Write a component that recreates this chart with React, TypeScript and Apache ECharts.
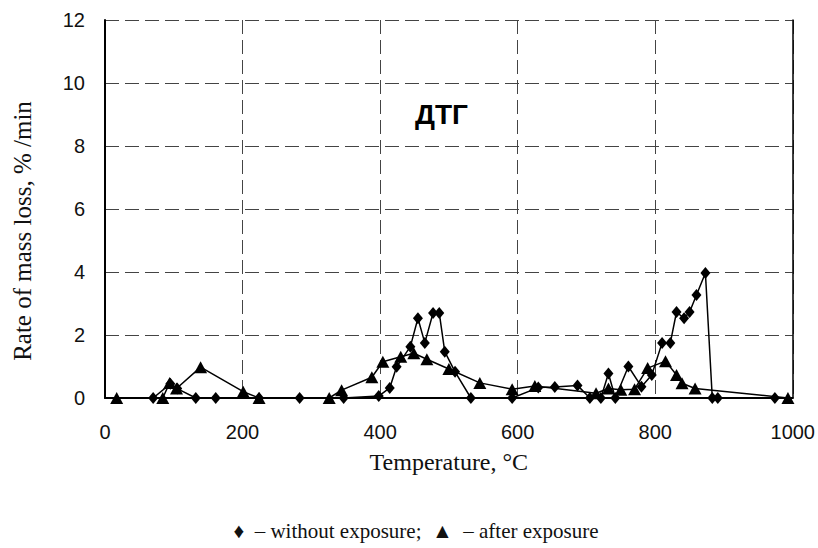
import React, { useEffect, useRef } from "react";
import * as echarts from "echarts";

// Series: without exposure (diamonds)
const withoutT = [70, 95, 105, 132, 161, 224, 283, 347, 398, 414, 424, 444, 455, 465, 477, 486, 494, 509, 532, 592, 630, 654, 687, 705, 721, 732, 742, 761, 780, 795, 810, 822, 831, 842, 850, 860, 873, 883, 891, 974];
const withoutV = [0, 0.45, 0.3, 0, 0, 0, 0, 0, 0.06, 0.32, 0.99, 1.63, 2.53, 1.75, 2.7, 2.7, 1.47, 0.83, 0, 0, 0.33, 0.35, 0.4, 0, 0, 0.78, 0, 1.0, 0.36, 0.73, 1.75, 1.75, 2.73, 2.53, 2.73, 3.27, 3.97, 0, 0, 0];

// Series: after exposure (triangles)
const afterT = [17, 84, 94, 104, 139, 201, 224, 326, 344, 388, 404, 430, 449, 468, 500, 545, 592, 625, 714, 732, 750, 770, 789, 815, 831, 839, 858, 993];
const afterV = [0, 0, 0.48, 0.3, 0.98, 0.2, 0, 0, 0.25, 0.66, 1.15, 1.31, 1.42, 1.23, 0.92, 0.48, 0.28, 0.38, 0.15, 0.3, 0.26, 0.28, 0.95, 1.17, 0.73, 0.47, 0.3, 0];

const xTicks = [0, 200, 400, 600, 800, 1000];
const yTicks = [0, 2, 4, 6, 8, 10, 12];

const xTitle = "Temperature, °C";
const yTitle = "Rate of mass loss, % /min";
const legendText = "♦  – without exposure;  ▲  – after exposure";
const label = "ДТГ";

export default function App() {
  const ref = useRef<HTMLDivElement>(null);
  useEffect(() => {
    if (!ref.current) return;
    const chart = echarts.init(ref.current, undefined, { renderer: "svg" });
    const pair = (t: number[], v: number[]) => t.map((x, i) => [x, v[i]]);
    chart.setOption({
      animation: false,
      backgroundColor: "#fff",
      grid: { left: 105, right: 22, top: 20, bottom: 150 },
      xAxis: {
        type: "value",
        min: xTicks[0],
        max: xTicks[xTicks.length - 1],
        interval: 200,
        axisLine: { show: true, lineStyle: { color: "#000", width: 2 } },
        axisTick: { show: false },
        axisLabel: {
          color: "#111",
          fontFamily: "Liberation Sans",
          fontSize: 20,
          margin: 24,
          formatter: (v: number) => String(v),
        },
        splitLine: { show: true, lineStyle: { color: "#444", type: [14, 6], width: 1 } },
        name: xTitle,
        nameLocation: "middle",
        nameGap: 52,
        nameTextStyle: { color: "#111", fontFamily: "Liberation Serif", fontSize: 24 },
      },
      yAxis: [
        {
          type: "value",
          min: yTicks[0],
          max: yTicks[yTicks.length - 1],
          interval: 2,
          axisLine: { show: true, lineStyle: { color: "#000", width: 2 } },
          axisTick: { show: false },
          axisLabel: { color: "#111", fontFamily: "Liberation Sans", fontSize: 20, margin: 20 },
          splitLine: { show: true, lineStyle: { color: "#444", type: [14, 6], width: 1 } },
        },
        {
          type: "value",
          position: "right",
          min: 0,
          max: 12,
          interval: 2,
          axisLine: { show: true, lineStyle: { color: "#000", width: 1.5 } },
          axisTick: { show: false },
          axisLabel: { show: false },
          splitLine: { show: false },
        },
      ],
      series: [
        {
          type: "line",
          name: "without exposure",
          data: pair(withoutT, withoutV),
          symbol: "diamond",
          symbolSize: [10, 12],
          lineStyle: { color: "#000", width: 1.5 },
          itemStyle: { color: "#000" },
          z: 3,
        },
        {
          type: "line",
          name: "after exposure",
          data: pair(afterT, afterV),
          symbol: "triangle",
          symbolSize: [13, 12],
          lineStyle: { color: "#000", width: 1.5 },
          itemStyle: { color: "#000" },
          z: 2,
        },
      ],
      graphic: [
        {
          type: "text",
          x: 22,
          y: 231,
          rotation: Math.PI / 2,
          style: {
            text: yTitle,
            fontFamily: "Liberation Serif",
            fontSize: 25,
            fill: "#111",
            align: "center",
            verticalAlign: "middle",
          },
        },
        {
          type: "text",
          left: 415,
          top: 100,
          style: { text: label, fontFamily: "Liberation Sans", fontWeight: "bold", fontSize: 28, fill: "#000" },
        },
        {
          type: "text",
          x: 416,
          y: 531,
          style: {
            text: legendText,
            fontFamily: "Liberation Serif",
            fontSize: 21,
            fill: "#111",
            align: "center",
            verticalAlign: "middle",
          },
        },
      ],
    });
    return () => chart.dispose();
  }, []);
  return <div ref={ref} style={{ position: "fixed", left: 0, top: 0, width: 818, height: 548 }} />;
}
